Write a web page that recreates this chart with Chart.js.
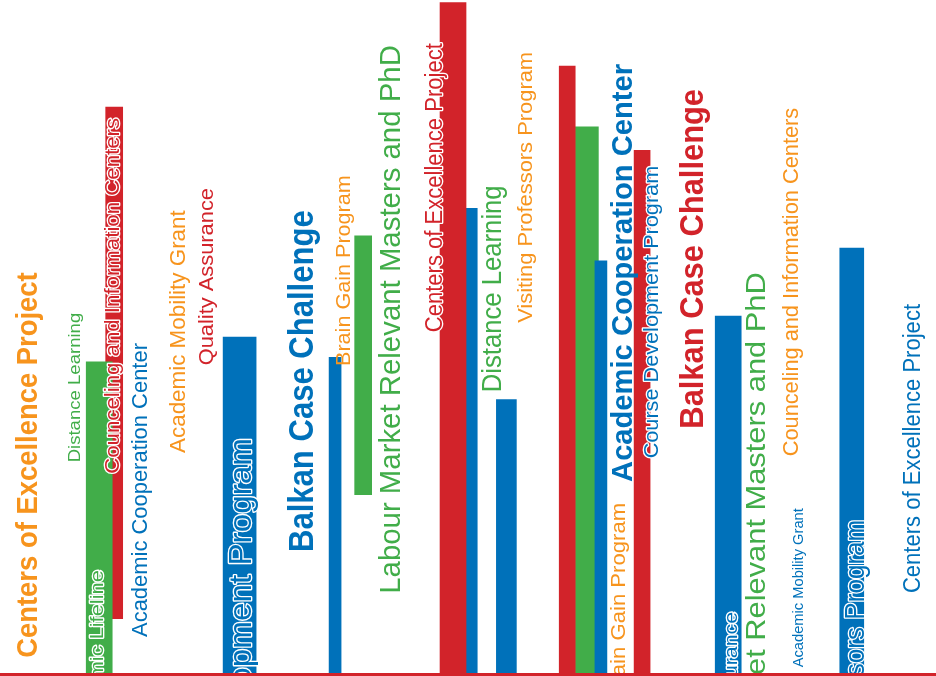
<!DOCTYPE html>
<html>
<head>
<meta charset="utf-8">
<script src="https://cdn.jsdelivr.net/npm/chart.js@4"></script>
<style>
  html, body { margin: 0; padding: 0; background: #fff; }
  #wrap { width: 936px; height: 676px; }
</style>
</head>
<body>
<div id="wrap"><canvas id="chart"></canvas></div>
<script>
const RED = "#D2232A", GREEN = "#41AD49", BLUE = "#0071BA", ORANGE = "#F7941D";
const FONT = "'Liberation Sans', Arial, sans-serif";

// barres flottantes : position, bas, haut (echelle 0-100)
const barX    = [10.6, 12.2, 25.6, 35.8, 38.8, 48.4, 50.4, 54.1, 60.6, 64.2, 62.7, 68.6, 77.8, 91.0];
const barLow  = [0,    8.2,  0,    0,    26.6, 0,    0,    0,    0,    0,    0,    0,    0,    0];
const barHigh = [46.3, 84.1, 50.0, 47.0, 65.0, 99.6, 69.1, 40.7, 90.2, 61.3, 81.2, 77.7, 53.1, 63.2];

// styles des barres
const barColors = [GREEN, RED, BLUE, BLUE, GREEN, RED, BLUE, BLUE, RED, BLUE, GREEN, RED, BLUE, BLUE];
const barWidths = [26, 17, 33, 12, 17, 26, 11, 20, 16, 12, 23, 16, 26, 24];

// textes des programmes
const labelTexts = [
  "Centers of Excellence Project",
  "Distance Learning",
  "Counceling and Information Centers",
  "Academic Lifeline",
  "Academic Cooperation Center",
  "Academic Mobility Grant",
  "Quality Assurance",
  "Course Development Program",
  "Balkan Case Challenge",
  "Brain Gain Program",
  "Labour Market Relevant Masters and PhD",
  "Centers of Excellence Project",
  "Distance Learning",
  "Visiting Professors Program",
  "Academic Cooperation Center",
  "Course Development Program",
  "Balkan Case Challenge",
  "Brain Gain Program",
  "Quality Assurance",
  "Labour Market Relevant Masters and PhD",
  "Counceling and Information Centers",
  "Academic Mobility Grant",
  "Visiting Professors Program",
  "Centers of Excellence Project"
];

// placement des textes (x = ligne de base, from/to = debut/fin sur l'axe y, tail = nb de caracteres visibles)
const labelLayout = [
  { x: 4.0,  from: 2.4,  to: 59.6, size: 30, color: ORANGE, bold: true },
  { x: 8.55, from: 31.4, to: 53.6, size: 17, color: GREEN },
  { x: 12.7, from: 29.7, to: 82.5, size: 21, color: RED, outline: true },
  { x: 11.0, from: 1.9,  to: 15.4, size: 19, color: GREEN, outline: true, tail: 11 },
  { x: 15.7, from: 5.5,  to: 49.1, size: 22, color: BLUE },
  { x: 19.8, from: 32.8, to: 68.8, size: 22, color: ORANGE },
  { x: 22.8, from: 45.8, to: 72.1, size: 20, color: RED },
  { x: 26.8, from: 1.0,  to: 35.0, size: 31, color: BLUE, outline: true, tail: 13 },
  { x: 33.4, from: 18.1, to: 68.8, size: 35, color: BLUE, bold: true },
  { x: 37.4, from: 45.7, to: 74.0, size: 20, color: ORANGE },
  { x: 42.7, from: 11.9, to: 93.3, size: 30, color: GREEN },
  { x: 47.2, from: 50.7, to: 93.6, size: 23, color: RED, outline: true },
  { x: 53.5, from: 41.8, to: 72.5, size: 27, color: GREEN },
  { x: 56.8, from: 52.1, to: 92.3, size: 20, color: ORANGE },
  { x: 67.5, from: 28.5, to: 90.5, size: 30, color: BLUE, bold: true },
  { x: 70.3, from: 32.0, to: 75.4, size: 21, color: BLUE, outline: true },
  { x: 75.1, from: 36.4, to: 86.8, size: 34, color: RED, bold: true },
  { x: 66.8, from: 1.5,  to: 25.4, size: 21, color: ORANGE, tail: 15 },
  { x: 78.7, from: 1.3,  to: 9.2,  size: 18, color: BLUE, outline: true, tail: 5 },
  { x: 81.7, from: 2.4,  to: 59.6, size: 28, color: GREEN, tail: 26 },
  { x: 85.3, from: 32.3, to: 84.0, size: 22, color: ORANGE },
  { x: 85.8, from: 1.0,  to: 24.6, size: 14, color: BLUE },
  { x: 92.3, from: 1.6,  to: 22.9, size: 27, color: BLUE, outline: true, tail: 11 },
  { x: 98.3, from: 12.0, to: 54.9, size: 23, color: BLUE }
];

// textes verticaux + ligne rouge du bas
const labelPlugin = {
  id: "verticalLabels",
  afterDatasetsDraw(chart) {
    const { ctx, scales: { x, y } } = chart;
    labelTexts.forEach((t, i) => {
      const L = labelLayout[i];
      const px = x.getPixelForValue(L.x);
      const y0 = y.getPixelForValue(L.from);
      const y1 = y.getPixelForValue(L.to);
      ctx.save();
      ctx.font = (L.bold ? "bold " : "") + L.size + "px " + FONT;
      const part = L.tail ? t.slice(-L.tail) : t;
      const s = (y0 - y1) / ctx.measureText(part).width;
      ctx.translate(px, y1);
      ctx.rotate(-Math.PI / 2);
      ctx.scale(s, 1);
      ctx.textAlign = "right";
      ctx.textBaseline = "alphabetic";
      if (L.outline) {
        ctx.lineWidth = 2.6;
        ctx.lineJoin = "round";
        ctx.strokeStyle = "#fff";
        ctx.strokeText(t, 0, 0);
      }
      ctx.fillStyle = L.color;
      ctx.fillText(t, 0, 0);
      ctx.restore();
    });

    const base = y.getPixelForValue(0);
    ctx.save();
    ctx.strokeStyle = RED;
    ctx.lineWidth = 3;
    ctx.beginPath();
    ctx.moveTo(0, base + 0.5);
    ctx.lineTo(chart.width, base + 0.5);
    ctx.stroke();
    ctx.restore();
  }
};

new Chart(document.getElementById("chart"), {
  type: "bar",
  data: {
    datasets: barX.map((bx, i) => ({
      data: [{ x: bx, y: [barLow[i], barHigh[i]] }],
      backgroundColor: barColors[i],
      barThickness: barWidths[i],
      grouped: false,
      borderWidth: 0
    }))
  },
  options: {
    responsive: true,
    maintainAspectRatio: false,
    animation: false,
    layout: { padding: { left: 0, right: 0, top: 0, bottom: 2 } },
    plugins: {
      legend: { display: false },
      tooltip: { enabled: false }
    },
    scales: {
      x: { type: "linear", min: 0, max: 100, offset: false, display: false },
      y: { min: 0, max: 100, display: false }
    }
  },
  plugins: [labelPlugin]
});
</script>
</body>
</html>
